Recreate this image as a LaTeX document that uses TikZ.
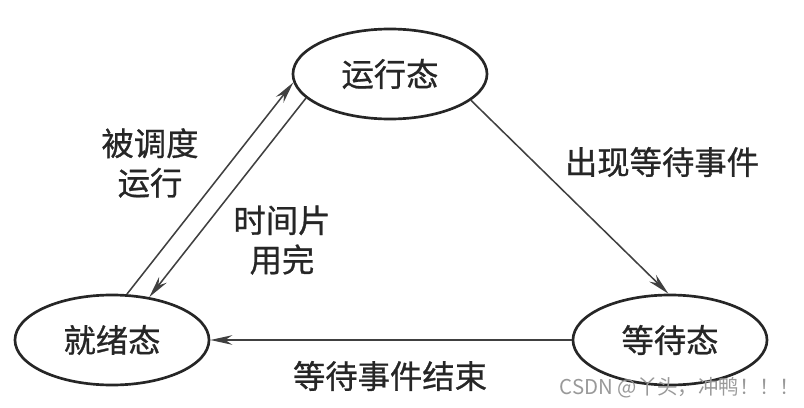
\documentclass[tikz,border=0pt]{standalone}
\usepackage{fontspec}
\usetikzlibrary{arrows.meta,shapes.geometric}
\newfontfamily\cjk[FakeBold=0.8]{Noto Sans CJK SC}
\newfontfamily\cjkmark{Noto Sans CJK SC}

\begin{document}
\begin{tikzpicture}[x=.025cm,y=-.025cm,
    statestyle/.style={ellipse,draw=black!85,line width=1.9pt,minimum width=4.85cm,minimum height=2.25cm,inner sep=0pt,text=black!85,font=\cjk\fontsize{23}{28}\selectfont},
    labelstyle/.style={align=center,text=black!85,font=\cjk\fontsize{23}{28}\selectfont},
    arrowstyle/.style={draw=black!75,line width=1.1pt,-{Stealth[length=5.5mm,width=2.4mm]}}]
    \useasboundingbox (0,0) rectangle (804,408);
    % states
    \node[statestyle] (run) at (390,74) {运行态};
    \node[statestyle] (ready) at (112,340) {就绪态};
    \node[statestyle] (wait) at (670,340) {等待态};
    % transitions
    \draw[arrowstyle] (ready.72) -- (run.185);
    \draw[arrowstyle] (run.196) -- (ready.49);
    \draw[arrowstyle] (run.342) -- (wait.92);
    \draw[arrowstyle] (wait.west) -- (ready.east);
    \node[labelstyle] (sched) at (150,163) {被调度\\运行};
    \node[labelstyle] (slice) at (282,240) {时间片\\用完};
    \node[labelstyle] (block) at (662,162) {出现等待事件};
    \node[labelstyle] (wake) at (390,376) {等待事件结束};
    \node[text=black!40,font=\cjkmark\fontsize{14.5}{16}\selectfont] (mark) at (680,388) {CSDN @丫头，冲鸭！！！};
\end{tikzpicture}
\end{document}
